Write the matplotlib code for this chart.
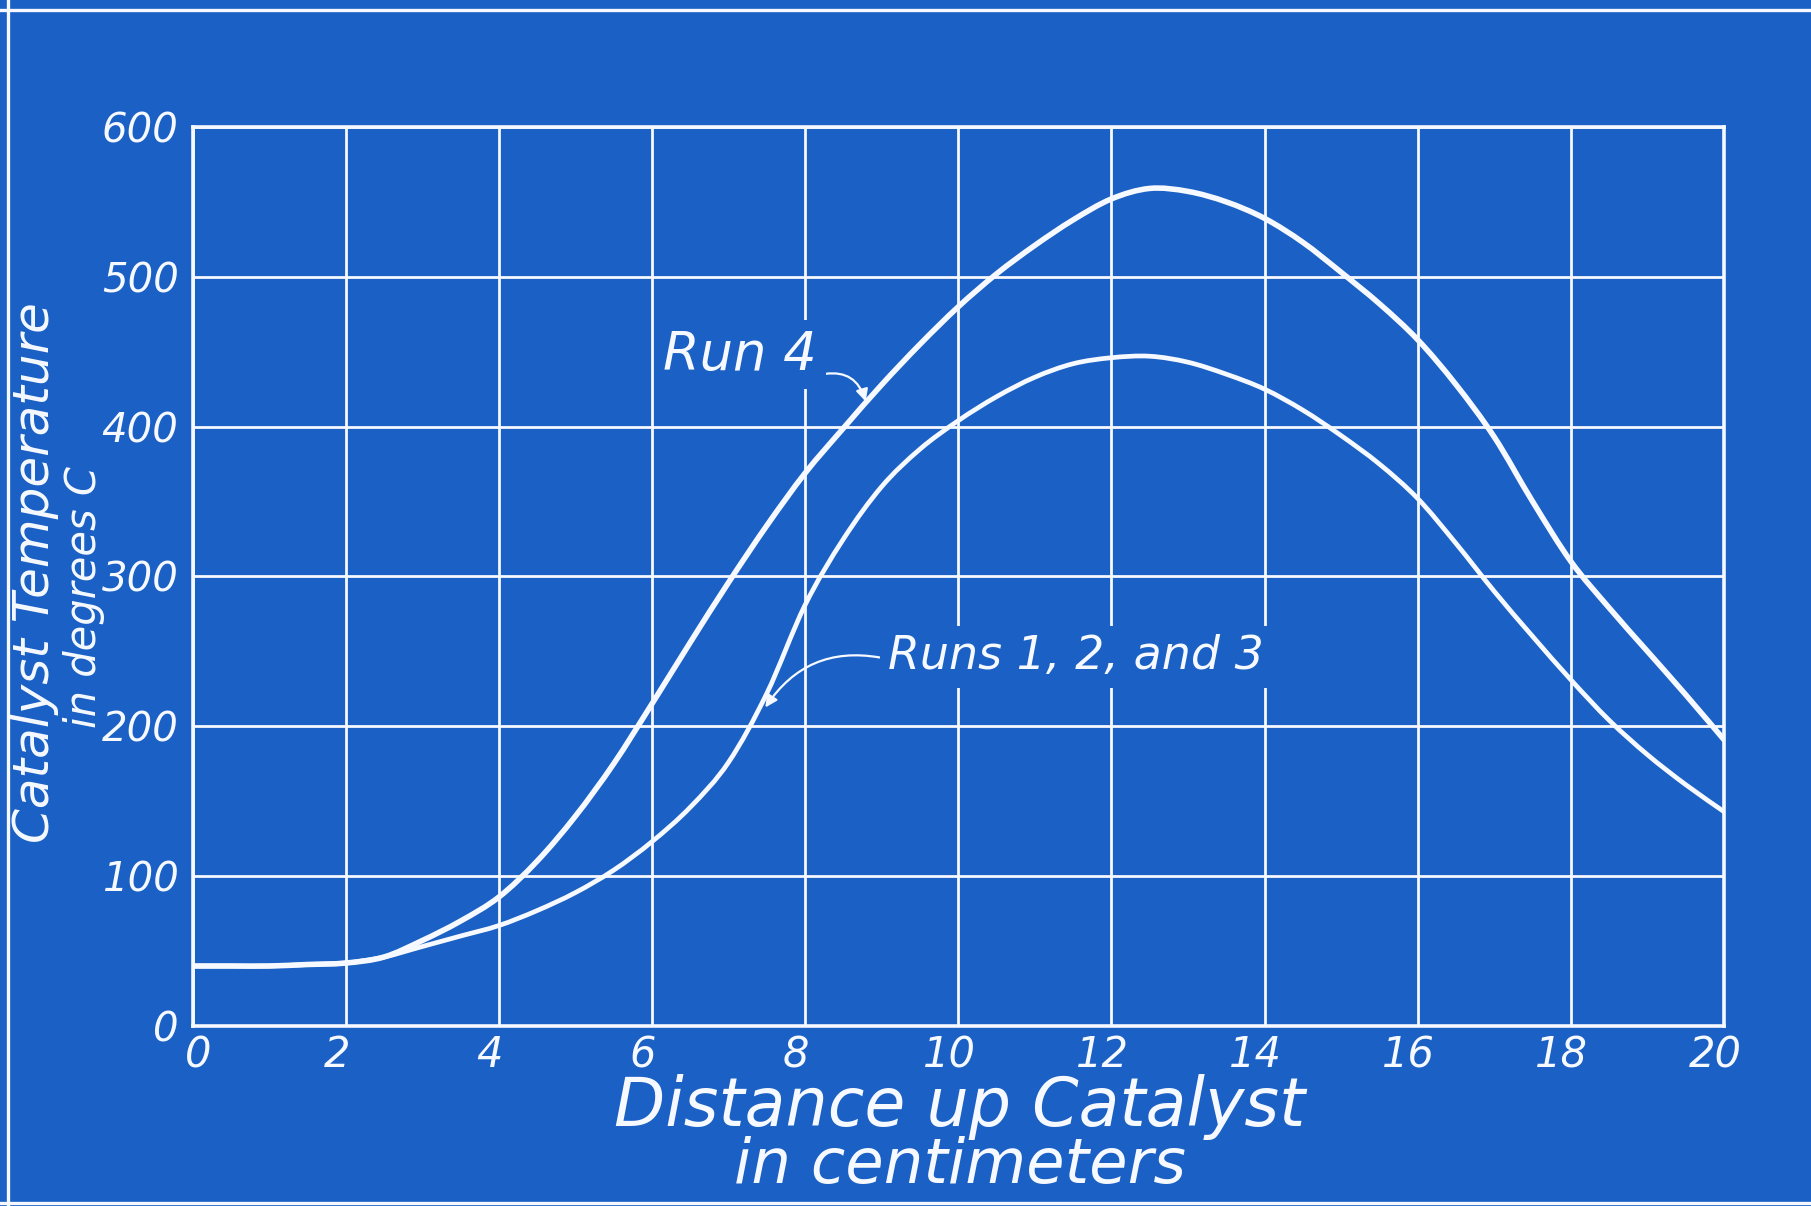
import matplotlib
matplotlib.use('Agg')
import numpy as np
from matplotlib import pyplot as plt
from matplotlib.lines import Line2D
from matplotlib.path import Path
from matplotlib.patches import PathPatch
from matplotlib.transforms import ScaledTranslation

distance = [0, 0.5, 1, 1.5, 2, 2.5, 3, 3.5, 4, 4.5, 5, 5.5, 6, 6.5, 7, 7.5,
            8, 8.5, 9, 9.5, 10, 10.5, 11, 11.5, 12, 12.5, 13, 13.5, 14, 14.5,
            15, 15.5, 16, 16.5, 17, 17.5, 18, 18.5, 19, 19.5, 20]
run4 = [40, 40, 40, 41, 42, 46, 57, 70, 86, 110, 140, 175, 215, 256, 296, 334,
        369, 399, 428, 455, 480, 502, 521, 538, 552, 559, 557, 550, 539, 523,
        503, 482, 458, 428, 393, 350, 310, 279, 250, 221, 191]
runs123 = [40, 40, 40, 41, 42, 46, 53, 60, 67, 77, 89, 104, 123, 146, 176, 222,
           281, 325, 360, 385, 404, 420, 433, 442, 446, 447, 443, 435, 425, 411,
           394, 375, 352, 322, 290, 260, 231, 204, 181, 161, 143]

xticks = [0, 2, 4, 6, 8, 10, 12, 14, 16, 18, 20]
yticks = [0, 100, 200, 300, 400, 500, 600]

BLUE = '#1a60c5'
WHITE = '#f6f9ff'
FONT = dict(family='DejaVu Sans', style='italic', color=WHITE)


def smooth_curve(ax, xs, ys, lw):
    '''Draw the read points joined by a smooth (Catmull-Rom) pen stroke.'''
    pts = np.column_stack([xs, ys]).astype(float)
    n = len(pts)
    verts = [pts[0]]
    codes = [Path.MOVETO]
    for i in range(n - 1):
        p0 = pts[max(i - 1, 0)]
        p1 = pts[i]
        p2 = pts[i + 1]
        p3 = pts[min(i + 2, n - 1)]
        verts += [p1 + (p2 - p0) / 6.0, p2 - (p3 - p1) / 6.0, p2]
        codes += [Path.CURVE4] * 3
    patch = PathPatch(Path(verts, codes), facecolor='none', edgecolor=WHITE,
                      linewidth=lw, capstyle='round', joinstyle='round', zorder=3)
    ax.add_patch(patch)


fig = plt.figure(figsize=(18.11, 12.06), dpi=100, facecolor=BLUE)
ax = fig.add_axes([0.1063, 0.1493, 0.8457, 0.7454], facecolor=BLUE)

# grid of the blueprint
ax.set_xlim(0, 20)
ax.set_ylim(0, 600)
ax.set_xticks(xticks)
ax.set_yticks(yticks)
ax.grid(True, color=WHITE, linewidth=2.0)
ax.set_axisbelow(True)
for sp in ax.spines.values():
    sp.set_color(WHITE)
    sp.set_linewidth(2.6)
ax.tick_params(length=0, colors=WHITE)
ax.tick_params(axis='x', pad=6)
ax.tick_params(axis='y', pad=10)
ax.set_xticklabels([str(t) for t in xticks], fontsize=30, **FONT)
ax.set_yticklabels([str(t) for t in yticks], fontsize=29, **FONT)
for lab in ax.get_xticklabels()[1:]:
    lab.set_transform(lab.get_transform() + ScaledTranslation(-0.09, 0, fig.dpi_scale_trans))
lab0 = ax.get_xticklabels()[0]
lab0.set_transform(lab0.get_transform() + ScaledTranslation(0.06, 0, fig.dpi_scale_trans))

# curves
smooth_curve(ax, distance, run4, 4.0)
smooth_curve(ax, distance, runs123, 3.4)

# labels on the curves (the box hides the grid behind the lettering)
box = dict(facecolor=BLUE, edgecolor='none', pad=6)
ax.annotate('Run 4', xy=(8.8, 415), xytext=(6.15, 438), ha='left', va='baseline',
            fontsize=38, bbox=box, zorder=4,
            arrowprops=dict(arrowstyle='-|>', color=WHITE, lw=1.6, mutation_scale=18,
                            relpos=(1, 0.1), shrinkA=0, shrinkB=2,
                            connectionstyle='arc3,rad=-0.5'),
            **FONT)
ax.annotate('Runs 1, 2, and 3', xy=(7.46, 211), xytext=(9.08, 238), ha='left',
            va='baseline', fontsize=33, bbox=box, zorder=4,
            arrowprops=dict(arrowstyle='-|>', color=WHITE, lw=1.6, mutation_scale=18,
                            relpos=(0, 0.45), shrinkA=0, shrinkB=2,
                            connectionstyle='arc3,rad=0.35'),
            **FONT)

# axis titles
fig.text(0.0195, 0.525, 'Catalyst Temperature', rotation=90, ha='center', va='center',
         fontsize=36, **FONT)
fig.text(0.0462, 0.505, 'in degrees C', rotation=90, ha='center', va='center',
         fontsize=30, **FONT)
fig.text(0.530, 0.082, 'Distance up Catalyst', ha='center', va='center',
         fontsize=48, **FONT)
fig.text(0.530, 0.033, 'in centimeters', ha='center', va='center',
         fontsize=45, **FONT)

# border lines of the sheet
fig.add_artist(Line2D([0.0045, 0.0045], [0.0, 1.0], color=WHITE, lw=2.4))
fig.add_artist(Line2D([0.0, 1.0], [0.9915, 0.9915], color=WHITE, lw=2.4))
fig.add_artist(Line2D([0.0, 1.0], [0.0025, 0.0025], color=WHITE, lw=2.4))

fig.savefig('out.png', dpi=100, facecolor=BLUE)
